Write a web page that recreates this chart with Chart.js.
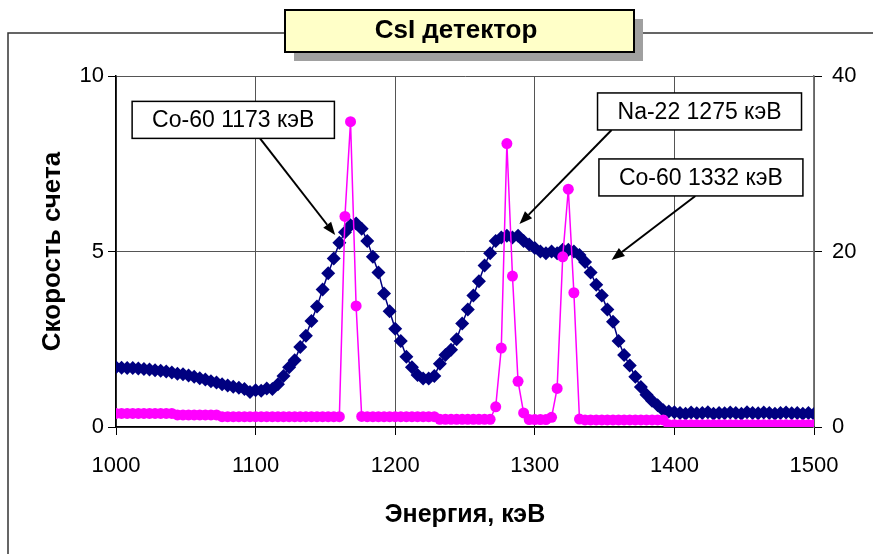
<!DOCTYPE html>
<html>
<head>
<meta charset="utf-8">
<script src="https://cdn.jsdelivr.net/npm/chart.js@4.4.1/dist/chart.umd.min.js"></script>
<style>
  html, body { margin: 0; padding: 0; background: #fff; }
  canvas { display: block; }
</style>
</head>
<body>
<canvas id="chart" width="873" height="554"></canvas>
<script>
// энергия канала, кэВ
const energy = [
    1000, 1004, 1008, 1012, 1016, 1020, 1024, 1028, 1032, 1036,
    1040, 1044, 1048, 1052, 1056, 1060, 1064, 1068, 1072, 1076,
    1080, 1084, 1088, 1092, 1096, 1100, 1104, 1108, 1112, 1116,
    1120, 1124, 1128, 1132, 1136, 1140, 1144, 1148, 1152, 1156,
    1160, 1164, 1168, 1172, 1176, 1180, 1184, 1188, 1192, 1196,
    1200, 1204, 1208, 1212, 1216, 1220, 1224, 1228, 1232, 1236,
    1240, 1244, 1248, 1252, 1256, 1260, 1264, 1268, 1272, 1276,
    1280, 1284, 1288, 1292, 1296, 1300, 1304, 1308, 1312, 1316,
    1320, 1324, 1328, 1332, 1336, 1340, 1344, 1348, 1352, 1356,
    1360, 1364, 1368, 1372, 1376, 1380, 1384, 1388, 1392, 1396,
    1400, 1404, 1408, 1412, 1416, 1420, 1424, 1428, 1432, 1436,
    1440, 1444, 1448, 1452, 1456, 1460, 1464, 1468, 1472, 1476,
    1480, 1484, 1488, 1492, 1496, 1500
];

// CsI - скорость счета (левая ось)
const rateCsI = [
    1.70, 1.69, 1.68, 1.68, 1.67, 1.65, 1.64, 1.62, 1.60, 1.58,
    1.55, 1.52, 1.50, 1.47, 1.43, 1.39, 1.35, 1.30, 1.27, 1.22,
    1.18, 1.15, 1.12, 1.08, 1.00, 1.05, 1.03, 1.10, 1.08, 1.22,
    1.45, 1.70, 1.90, 2.28, 2.60, 3.02, 3.43, 3.92, 4.38, 4.80,
    5.25, 5.55, 5.75, 5.80, 5.65, 5.30, 4.85, 4.40, 3.80, 3.30,
    2.80, 2.45, 2.00, 1.70, 1.48, 1.38, 1.38, 1.45, 1.80, 2.05,
    2.20, 2.50, 2.95, 3.35, 3.75, 4.15, 4.60, 4.95, 5.30, 5.40,
    5.45, 5.40, 5.45, 5.30, 5.20, 5.10, 5.00, 4.95, 5.00, 4.95,
    5.05, 5.05, 5.00, 4.90, 4.70, 4.40, 4.05, 3.75, 3.35, 3.00,
    2.45, 2.05, 1.75, 1.43, 1.14, 0.92, 0.75, 0.62, 0.48, 0.44,
    0.42, 0.40, 0.38, 0.41, 0.39, 0.40, 0.42, 0.38, 0.40, 0.39,
    0.41, 0.40, 0.38, 0.42, 0.40, 0.39, 0.41, 0.40, 0.38, 0.40,
    0.41, 0.39, 0.40, 0.38, 0.40, 0.37
];

// второй спектр (правая ось)
const rateRef = [
    1.55, 1.55, 1.55, 1.55, 1.55, 1.55, 1.55, 1.55, 1.55, 1.55,
    1.55, 1.37, 1.37, 1.37, 1.37, 1.37, 1.37, 1.37, 1.37, 1.17,
    1.17, 1.17, 1.17, 1.17, 1.17, 1.17, 1.17, 1.17, 1.17, 1.17,
    1.17, 1.17, 1.17, 1.17, 1.17, 1.17, 1.17, 1.17, 1.17, 1.17,
    1.17, 24.0, 34.8, 13.8, 1.20, 1.17, 1.17, 1.17, 1.17, 1.17,
    1.17, 1.17, 1.17, 1.17, 1.17, 1.17, 1.17, 1.17, 0.88, 0.88,
    0.88, 0.88, 0.88, 0.88, 0.88, 0.88, 0.88, 0.88, 2.30, 9.00,
    32.3, 17.2, 5.20, 1.60, 0.85, 0.85, 0.85, 0.85, 1.10, 4.40,
    19.4, 27.1, 15.3, 0.90, 0.80, 0.80, 0.80, 0.80, 0.80, 0.80,
    0.80, 0.80, 0.80, 0.80, 0.80, 0.80, 0.80, 0.80, 0.80, 0.25,
    0.25, 0.25, 0.25, 0.25, 0.25, 0.25, 0.25, 0.25, 0.25, 0.25,
    0.25, 0.25, 0.25, 0.25, 0.25, 0.25, 0.25, 0.25, 0.25, 0.25,
    0.25, 0.25, 0.25, 0.25, 0.25, 0.25
];

const energyTicks = [1000, 1100, 1200, 1300, 1400, 1500];
const leftTicks = [0, 5, 10];
const rightTicks = [0, 20, 40];

const titleText = 'CsI детектор';
const xTitle = 'Энергия, кэВ';
const yTitle = 'Скорость счета';

// подписи со стрелками (координаты в единицах осей: кэВ, левая ось)
const callouts = [
    { text: 'Co-60 1173 кэВ', box: [1084, 8.75], from: [1103, 8.23], to: [1157, 5.47] },
    { text: 'Na-22 1275 кэВ', box: [1418, 8.99], from: [1355, 8.46], to: [1289, 5.78] },
    { text: 'Co-60 1332 кэВ', box: [1419, 7.11], from: [1415, 6.58], to: [1355, 4.76] }
];

const FONT = '"Liberation Sans", Arial, sans-serif';
Chart.defaults.font.family = FONT;
Chart.defaults.color = '#000';

const toXY = (ys) => energy.map((e, i) => ({ x: e, y: ys[i] }));

function drawArrow(ctx, x1, y1, x2, y2) {
    const a = Math.atan2(y2 - y1, x2 - x1);
    const len = 13, half = 5;
    const bx = x2 - len * Math.cos(a), by = y2 - len * Math.sin(a);
    ctx.beginPath();
    ctx.moveTo(x1, y1);
    ctx.lineTo(bx, by);
    ctx.stroke();
    ctx.beginPath();
    ctx.moveTo(x2, y2);
    ctx.lineTo(bx + half * Math.sin(a), by - half * Math.cos(a));
    ctx.lineTo(bx - half * Math.sin(a), by + half * Math.cos(a));
    ctx.closePath();
    ctx.fill();
}

const decor = {
    id: 'decor',
    afterDraw(chart) {
        const ctx = chart.ctx;
        const xs = chart.scales.x, ys = chart.scales.y;
        ctx.save();

        // рамка области диаграммы
        ctx.strokeStyle = '#333';
        ctx.lineWidth = 1.5;
        ctx.beginPath();
        ctx.moveTo(8, 554);
        ctx.lineTo(8, 33);
        ctx.lineTo(873, 33);
        ctx.stroke();

        // заголовок с тенью
        ctx.fillStyle = '#a0a0a0';
        ctx.fillRect(294, 19, 349, 42);
        ctx.fillStyle = '#ffffc8';
        ctx.fillRect(285, 10, 349, 42);
        ctx.strokeStyle = '#000';
        ctx.lineWidth = 2;
        ctx.strokeRect(285, 10, 349, 42);
        ctx.fillStyle = '#000';
        ctx.font = 'bold 26px ' + FONT;
        ctx.textAlign = 'center';
        ctx.textBaseline = 'middle';
        ctx.fillText(titleText, 456, 31);

        // выноски
        ctx.font = '23px ' + FONT;
        callouts.forEach(c => {
            const cx = xs.getPixelForValue(c.box[0]);
            const cy = ys.getPixelForValue(c.box[1]);
            const w = ctx.measureText(c.text).width + 40;
            const h = 37;
            ctx.strokeStyle = '#000';
            ctx.fillStyle = '#000';
            ctx.lineWidth = 2;
            drawArrow(ctx,
                xs.getPixelForValue(c.from[0]), ys.getPixelForValue(c.from[1]),
                xs.getPixelForValue(c.to[0]), ys.getPixelForValue(c.to[1]));
            ctx.fillStyle = '#fff';
            ctx.fillRect(cx - w / 2, cy - h / 2, w, h);
            ctx.lineWidth = 1.5;
            ctx.strokeRect(cx - w / 2, cy - h / 2, w, h);
            ctx.fillStyle = '#000';
            ctx.fillText(c.text, cx, cy + 1);
        });

        ctx.restore();
    }
};

const setTicks = (list) => (scale) => { scale.ticks = list.map(v => ({ value: v })); };
const plain = (v) => String(v);

new Chart(document.getElementById('chart'), {
    type: 'scatter',
    data: {
        datasets: [
            {
                label: 'ref',
                data: toXY(rateRef),
                yAxisID: 'y2',
                showLine: true,
                borderColor: '#ff00ff',
                backgroundColor: '#ff00ff',
                borderWidth: 1.5,
                pointStyle: 'circle',
                pointRadius: 5.5,
                pointBorderWidth: 0
            },
            {
                label: 'CsI',
                data: toXY(rateCsI),
                yAxisID: 'y',
                showLine: true,
                borderColor: '#000080',
                backgroundColor: '#000080',
                borderWidth: 1.5,
                pointStyle: 'rectRot',
                pointRadius: 7,
                pointBorderWidth: 0
            }
        ]
    },
    options: {
        responsive: false,
        animation: false,
        layout: { padding: { top: 76, left: 0, right: 0, bottom: 0 } },
        plugins: {
            legend: { display: false },
            tooltip: { enabled: false }
        },
        scales: {
            x: {
                type: 'linear',
                min: 1000,
                max: 1500,
                afterBuildTicks: setTicks(energyTicks),
                afterFit: (s) => { s.height = 127; },
                grid: { color: '#555', tickColor: '#000', tickLength: 8 },
                border: { color: '#000', width: 1.5 },
                ticks: { font: { size: 22 }, padding: 18, maxRotation: 0, callback: plain },
                title: {
                    display: true, text: xTitle,
                    font: { size: 25, weight: 'bold' },
                    padding: { bottom: 24 }
                }
            },
            y: {
                position: 'left',
                min: 0,
                max: 10,
                afterBuildTicks: setTicks(leftTicks),
                afterFit: (s) => { s.width = 116; },
                grid: { color: '#555', tickColor: '#000', tickLength: 8 },
                border: { color: '#000', width: 1.5 },
                ticks: { font: { size: 22 }, padding: 4, callback: plain },
                title: {
                    display: true, text: yTitle,
                    font: { size: 26, weight: 'bold' },
                    padding: { top: 37 }
                }
            },
            y2: {
                position: 'right',
                min: 0,
                max: 40,
                afterBuildTicks: setTicks(rightTicks),
                afterFit: (s) => { s.width = 59; },
                grid: { drawOnChartArea: false, tickColor: '#000', tickLength: 8 },
                border: { color: '#777', width: 1.5 },
                ticks: { font: { size: 22 }, padding: 10, callback: plain }
            }
        }
    },
    plugins: [decor]
});
</script>
</body>
</html>
